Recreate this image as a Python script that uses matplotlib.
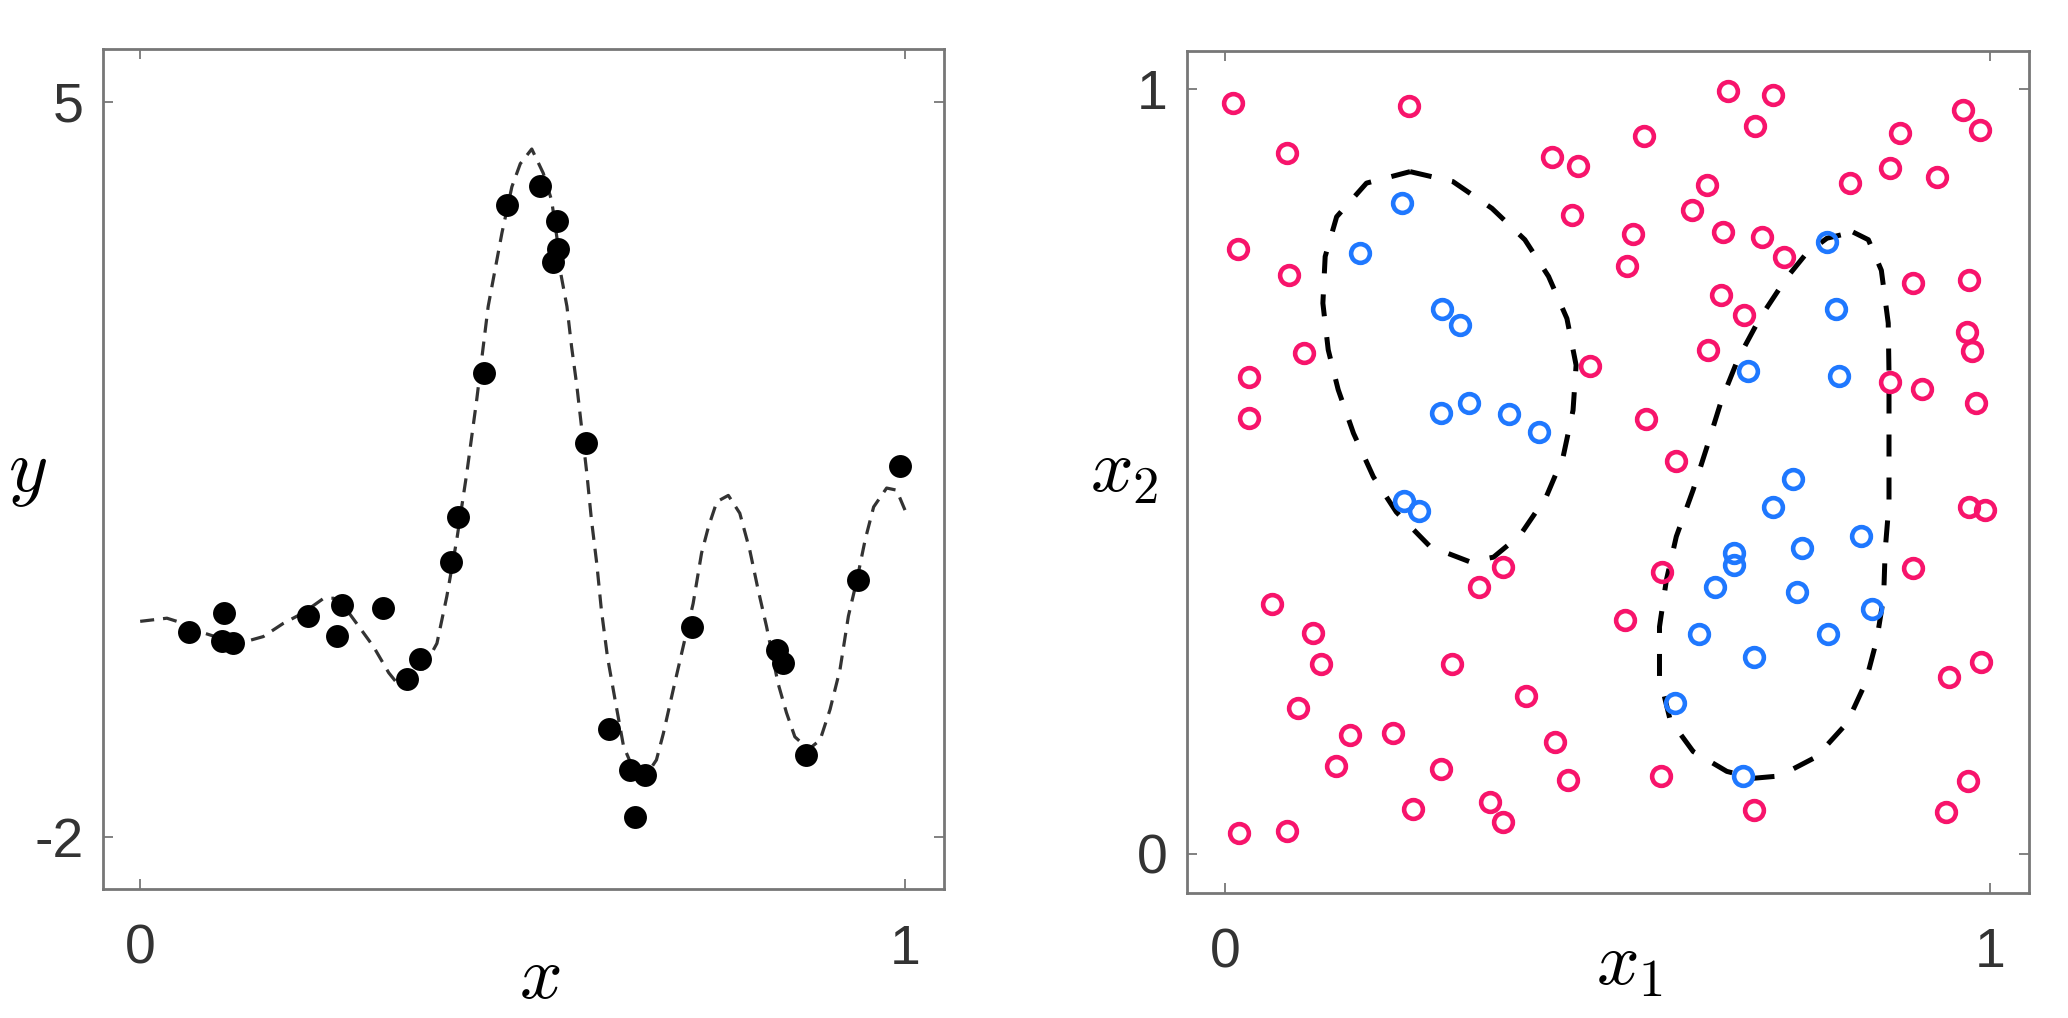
import numpy as np
import matplotlib
matplotlib.use("Agg")
import matplotlib.pyplot as plt

plt.rcParams['mathtext.fontset'] = 'cm'
plt.rcParams['font.family'] = ['Liberation Sans', 'DejaVu Sans']

# ---- left panel: noisy samples and the underlying function ----
x_pts = [0.064, 0.110, 0.107, 0.122, 0.219, 0.264, 0.257, 0.318, 0.349, 0.366,
         0.406, 0.416, 0.449, 0.479, 0.523, 0.545, 0.546, 0.540, 0.583, 0.613,
         0.641, 0.660, 0.647, 0.721, 0.832, 0.841, 0.870, 0.939, 0.994]
y_pts = [-0.05, 0.13, -0.14, -0.16, 0.10, 0.21, -0.09, 0.18, -0.50, -0.31,
         0.62, 1.04, 2.42, 4.02, 4.20, 3.86, 3.60, 3.47, 1.75, -0.98,
         -1.37, -1.41, -1.81, 0.00, -0.22, -0.35, -1.22, 0.44, 1.53]

x_curve = [0.0, 0.035, 0.048, 0.07, 0.10, 0.125, 0.144, 0.161, 0.187, 0.213,
           0.240, 0.253, 0.268, 0.283, 0.305, 0.325, 0.336, 0.350, 0.370, 0.388,
           0.401, 0.414, 0.427, 0.440, 0.455, 0.464, 0.473, 0.486, 0.497, 0.512,
           0.527, 0.538, 0.545, 0.549, 0.558, 0.564, 0.571, 0.576, 0.584, 0.590,
           0.597, 0.603, 0.611, 0.621, 0.632, 0.649, 0.665, 0.675, 0.684, 0.697,
           0.710, 0.723, 0.734, 0.743, 0.754, 0.769, 0.784, 0.797, 0.808, 0.819,
           0.834, 0.845, 0.856, 0.874, 0.889, 0.902, 0.915, 0.926, 0.937, 0.948,
           0.959, 0.976, 0.989, 1.0]
y_curve = [0.05, 0.08, 0.05, -0.03, -0.10, -0.13, -0.13, -0.095, 0.03, 0.13,
           0.27, 0.27, 0.18, 0.03, -0.19, -0.44, -0.54, -0.52, -0.40, -0.16,
           0.29, 0.83, 1.46, 2.16, 3.05, 3.40, 3.75, 4.19, 4.41, 4.55,
           4.32, 4.06, 3.70, 3.40, 3.05, 2.67, 2.29, 1.97, 1.46, 1.02,
           0.60, 0.16, -0.29, -0.70, -1.14, -1.43, -1.38, -1.27, -1.02, -0.60,
           -0.19, 0.22, 0.70, 0.95, 1.19, 1.25, 1.08, 0.73, 0.35, 0.0,
           -0.54, -0.82, -1.05, -1.17, -1.08, -0.79, -0.41, 0.10, 0.44, 0.83,
           1.14, 1.32, 1.30, 1.11]

# ---- right panel: two classes and two decision boundaries ----
red_x1 = [0.011, 0.241, 0.081, 0.427, 0.461, 0.453, 0.017, 0.084, 0.103, 0.031,
          0.031, 0.477, 0.363, 0.332, 0.062, 0.523, 0.115, 0.125, 0.297, 0.394,
          0.096, 0.163, 0.220, 0.431, 0.145, 0.282, 0.448, 0.246, 0.346, 0.363,
          0.019, 0.081, 0.658, 0.717, 0.693, 0.548, 0.965, 0.987, 0.882, 0.869,
          0.931, 0.817, 0.630, 0.610, 0.534, 0.651, 0.702, 0.731, 0.525, 0.900,
          0.973, 0.649, 0.678, 0.970, 0.977, 0.632, 0.869, 0.911, 0.982, 0.550,
          0.590, 0.973, 0.993, 0.571, 0.900, 0.946, 0.988, 0.570, 0.692, 0.971,
          0.942]
red_x2 = [0.982, 0.978, 0.917, 0.911, 0.900, 0.835, 0.791, 0.757, 0.655, 0.623,
          0.570, 0.638, 0.375, 0.349, 0.327, 0.306, 0.289, 0.249, 0.248, 0.207,
          0.191, 0.156, 0.158, 0.146, 0.115, 0.111, 0.097, 0.059, 0.068, 0.042,
          0.027, 0.030, 0.997, 0.992, 0.952, 0.939, 0.973, 0.946, 0.943, 0.897,
          0.885, 0.877, 0.874, 0.842, 0.810, 0.813, 0.807, 0.781, 0.769, 0.746,
          0.750, 0.731, 0.704, 0.682, 0.658, 0.659, 0.617, 0.608, 0.589, 0.569,
          0.514, 0.453, 0.450, 0.369, 0.374, 0.232, 0.251, 0.102, 0.058, 0.096,
          0.055]

blue_x1 = [0.231, 0.177, 0.284, 0.307, 0.282, 0.319, 0.371, 0.410, 0.234, 0.254,
           0.787, 0.799, 0.684, 0.802, 0.742, 0.716, 0.831, 0.754, 0.665, 0.665,
           0.641, 0.748, 0.846, 0.620, 0.788, 0.692, 0.588, 0.677]
blue_x2 = [0.851, 0.786, 0.712, 0.691, 0.576, 0.589, 0.575, 0.551, 0.461, 0.448,
           0.800, 0.713, 0.631, 0.625, 0.490, 0.454, 0.416, 0.400, 0.394, 0.378,
           0.349, 0.342, 0.320, 0.287, 0.287, 0.258, 0.197, 0.102]

bnd1_x1 = [0.242, 0.298, 0.349, 0.392, 0.423, 0.447, 0.459, 0.455, 0.442, 0.420,
           0.386, 0.351, 0.320, 0.268, 0.224, 0.194, 0.168, 0.148, 0.135, 0.128,
           0.131, 0.146, 0.185, 0.242]
bnd1_x2 = [0.892, 0.879, 0.844, 0.803, 0.755, 0.700, 0.639, 0.580, 0.519, 0.467,
           0.417, 0.388, 0.382, 0.402, 0.447, 0.493, 0.550, 0.607, 0.659, 0.720,
           0.781, 0.833, 0.877, 0.892]

bnd2_x1 = [0.821, 0.841, 0.858, 0.867, 0.868, 0.868, 0.868, 0.863, 0.861, 0.852,
           0.837, 0.813, 0.773, 0.725, 0.691, 0.656, 0.612, 0.582, 0.568, 0.568,
           0.577, 0.590, 0.612, 0.630, 0.649, 0.671, 0.699, 0.734, 0.760, 0.787,
           0.821]
bnd2_x2 = [0.813, 0.803, 0.763, 0.694, 0.628, 0.519, 0.458, 0.397, 0.336, 0.280,
           0.223, 0.171, 0.127, 0.102, 0.099, 0.108, 0.134, 0.175, 0.232, 0.297,
           0.358, 0.415, 0.476, 0.532, 0.593, 0.648, 0.700, 0.753, 0.785, 0.805,
           0.813]

red = '#F7146B'
blue = '#1F78FF'
spine_col = '#777777'

fig = plt.figure(figsize=(20.68, 10.18), dpi=100)
fig.patch.set_facecolor('white')

W, H = 2068.0, 1018.0
ax1 = fig.add_axes([102.7 / W, 1 - 889 / H, (944 - 102.7) / W, (889 - 49.3) / H])
ax2 = fig.add_axes([1186.7 / W, 1 - 892.7 / H, (2029 - 1186.7) / W, (892.7 - 51) / H])


def style(ax):
    for s in ax.spines.values():
        s.set_color(spine_col)
        s.set_linewidth(2.0)
    ax.tick_params(direction='in', length=7.5, width=1.3, color=spine_col,
                   top=True, right=True, labelsize=40, labelcolor='#333333')
    ax.tick_params(axis='x', pad=25)
    ax.tick_params(axis='y', pad=14)


# left panel
ax1.plot(x_curve, y_curve, color='#333333', lw=2.3, dashes=(4.4, 2.8), zorder=2)
ax1.plot(x_pts, y_pts, 'o', color='black', ms=16.5, mew=0, zorder=3)
ax1.set_xlim(-0.049, 1.051)
ax1.set_ylim(-2.5, 5.5)
ax1.set_xticks([0, 1])
ax1.set_yticks([-2, 5])
ax1.set_xticklabels(['0', '1'])
ax1.set_yticklabels(['-2', '5'])
style(ax1)
ax1.text(0.52, -0.130, r'$x$', transform=ax1.transAxes, ha='center', va='baseline', fontsize=54)
ax1.text(-0.090, 0.474, r'$y$', transform=ax1.transAxes, ha='center', va='baseline', fontsize=54)

# right panel
ax2.plot(red_x1, red_x2, 'o', ms=13.5, mfc='none', mec=red, mew=3.3, zorder=3)
ax2.plot(blue_x1, blue_x2, 'o', ms=13.5, mfc='none', mec=blue, mew=3.3, zorder=3)
ax2.plot(bnd1_x1, bnd1_x2, color='black', lw=3.6, dashes=(4.4, 4.2), zorder=2)
ax2.plot(bnd2_x1, bnd2_x2, color='black', lw=3.6, dashes=(4.4, 4.2), zorder=2)
ax2.set_xlim(-0.05, 1.051)
ax2.set_ylim(-0.0506, 1.0497)
ax2.set_xticks([0, 1])
ax2.set_yticks([0, 1])
ax2.set_xticklabels(['0', '1'])
ax2.set_yticklabels(['0', '1'])
style(ax2)
ax2.text(0.526, -0.1085, r'$x_1$', transform=ax2.transAxes, ha='center', va='baseline', fontsize=54)
ax2.text(-0.0744, 0.477, r'$x_2$', transform=ax2.transAxes, ha='center', va='baseline', fontsize=54)

plt.savefig('out.png', dpi=100, facecolor='white')
